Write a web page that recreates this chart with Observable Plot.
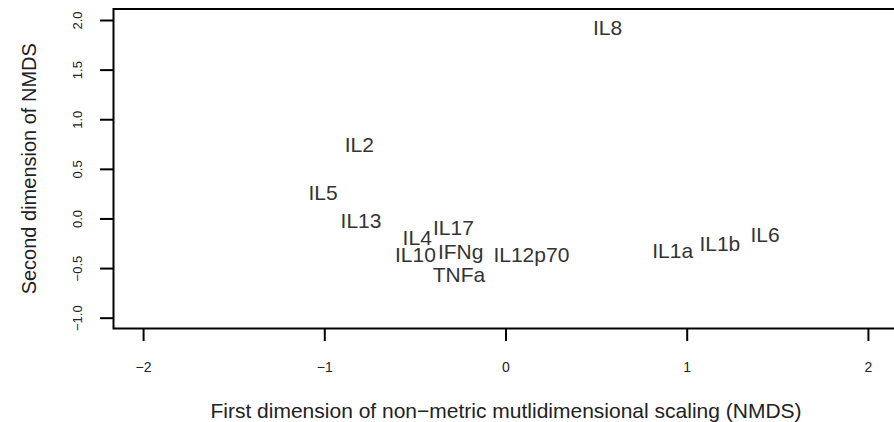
<!DOCTYPE html>
<html>
<head>
<meta charset="utf-8">
<script src="https://cdn.jsdelivr.net/npm/d3@7"></script>
<script src="https://cdn.jsdelivr.net/npm/@observablehq/plot@0.6"></script>
<style>
  html, body { margin: 0; padding: 0; background: #fff; overflow: hidden; width: 894px; height: 422px; }
  #chart { width: 894px; height: 422px; overflow: hidden; }
  #chart svg { display: block; max-width: none !important; }
</style>
</head>
<body>
<div id="chart"></div>
<script>
// Cytokine labels and their NMDS coordinates
const cytokines = ["IL8", "IL2", "IL5", "IL13", "IL4", "IL17", "IL10", "IFNg", "IL12p70", "TNFa", "IL1a", "IL1b", "IL6"];
const nmds1 = [0.56, -0.81, -1.01, -0.80, -0.49, -0.29, -0.50, -0.25, 0.14, -0.26, 0.92, 1.18, 1.43];
const nmds2 = [1.92, 0.74, 0.26, -0.02, -0.19, -0.09, -0.37, -0.34, -0.37, -0.57, -0.33, -0.26, -0.16];

const xTicks = [-2, -1, 0, 1, 2];
const yTicks = [-1.0, -0.5, 0.0, 0.5, 1.0, 1.5, 2.0];
const xTitle = "First dimension of non\u2212metric mutlidimensional scaling (NMDS)";
const yTitle = "Second dimension of NMDS";

const points = cytokines.map((name, i) => ({name, x: nmds1[i], y: nmds2[i]}));
const fmtX = d => d < 0 ? "\u2212" + Math.abs(d) : String(d);
const fmtY = d => (d < 0 ? "\u2212" : "") + Math.abs(d).toFixed(1);

const font = "'Liberation Sans', Arial, Helvetica, sans-serif";

const chart = Plot.plot({
  width: 898,
  height: 422,
  marginLeft: 113,
  marginRight: 0,
  marginTop: 8.5,
  marginBottom: 94,
  style: {fontFamily: font, background: "#fff", maxWidth: "none"},
  x: {domain: [-2.166, 2.166]},
  y: {domain: [-1.104, 2.116]},
  marks: [
    Plot.frame({stroke: "#000", strokeWidth: 2}),
    Plot.axisX({ticks: xTicks, tickSize: 13, strokeWidth: 2, stroke: "#000", tickFormat: () => "", label: null}),
    Plot.axisY({ticks: yTicks, tickSize: 13, strokeWidth: 2, stroke: "#000", tickFormat: () => "", label: null}),
    Plot.text(xTicks, {x: d => d, text: fmtX, frameAnchor: "bottom", dy: 39, lineAnchor: "middle", fontSize: 14, fill: "#222"}),
    Plot.text(yTicks, {y: d => d, text: fmtY, frameAnchor: "left", dx: -35.5, rotate: -90, textAnchor: "middle", lineAnchor: "middle", fontSize: 13, fill: "#222"}),
    Plot.text([xTitle], {text: d => d, frameAnchor: "bottom", dy: 83, lineAnchor: "middle", fontSize: 21, fill: "#222"}),
    Plot.text([yTitle], {text: d => d, frameAnchor: "left", dx: -84, rotate: -90, textAnchor: "middle", lineAnchor: "middle", fontSize: 20, fill: "#222"}),
    Plot.text(points, {x: "x", y: "y", text: "name", fontSize: 21, fill: "#333", lineAnchor: "middle", textAnchor: "middle"})
  ]
});
chart.style.maxWidth = "none";
document.getElementById("chart").appendChild(chart);
</script>
</body>
</html>
